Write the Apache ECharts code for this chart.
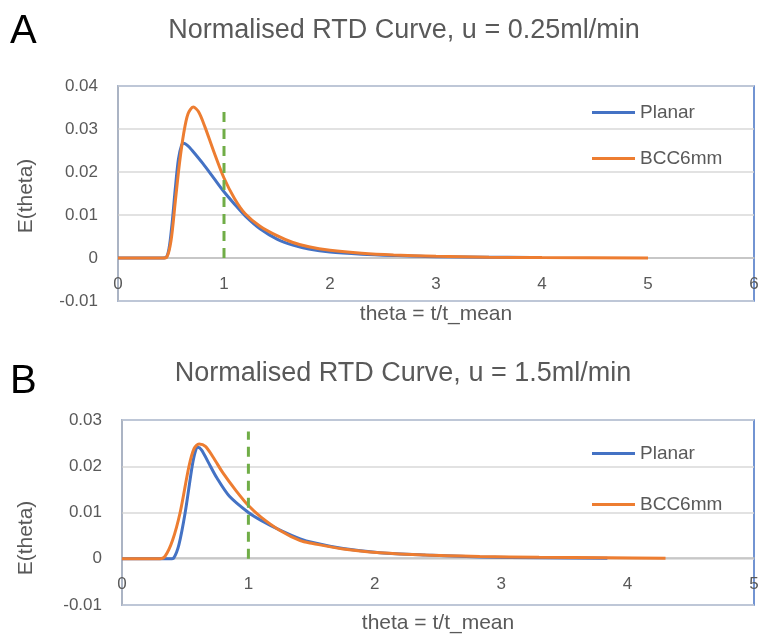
<!DOCTYPE html>
<html>
<head>
<meta charset="utf-8">
<script src="https://cdn.jsdelivr.net/npm/echarts@6/dist/echarts.min.js"></script>
<style>
  html, body { margin: 0; padding: 0; background: #fff; }
  #main { width: 760px; height: 637px; }
</style>
</head>
<body>
<div id="main"></div>
<script>
// chart A: u = 0.25 ml/min, [theta, E(theta)]
var planarA = [
    [0, 0], [0.40, 0], [0.45, 0.0001], [0.48, 0.002], [0.51, 0.008], [0.54, 0.016],
    [0.57, 0.023], [0.60, 0.0262], [0.62, 0.0267], [0.66, 0.0261], [0.70, 0.0250],
    [0.80, 0.0220], [0.90, 0.0187], [1.00, 0.0154], [1.10, 0.0125], [1.20, 0.0098],
    [1.34, 0.0068], [1.50, 0.0044], [1.65, 0.0030], [1.80, 0.0021], [2.00, 0.0014],
    [2.30, 0.0009], [2.60, 0.0006], [3.00, 0.0003], [3.50, 0.0002], [3.90, 0.0001]
];
var bccA = [
    [0, 0], [0.42, 0], [0.46, 0.0002], [0.50, 0.004], [0.54, 0.013], [0.58, 0.022],
    [0.62, 0.029], [0.66, 0.0335], [0.71, 0.0351], [0.76, 0.0340], [0.82, 0.0305],
    [0.90, 0.0250], [1.00, 0.0186], [1.10, 0.0138], [1.20, 0.0103], [1.34, 0.0074],
    [1.50, 0.0052], [1.65, 0.0036], [1.80, 0.0026], [2.00, 0.0018], [2.30, 0.0011],
    [2.60, 0.0007], [3.00, 0.0004], [3.50, 0.0002], [4.00, 0.0001], [5.00, 0]
];
var meanLineA = [[1, 0], [1, 0.034]];

// chart B: u = 1.5 ml/min
var planarB = [
    [0, 0], [0.38, 0], [0.41, 0.0002], [0.45, 0.003], [0.50, 0.010], [0.555, 0.020],
    [0.58, 0.0232], [0.60, 0.0241], [0.63, 0.0235], [0.68, 0.0210], [0.75, 0.0175],
    [0.85, 0.0135], [1.00, 0.0100], [1.10, 0.0083], [1.25, 0.0062], [1.41, 0.0043],
    [1.51, 0.0035], [1.75, 0.0022], [2.04, 0.0013], [2.40, 0.0008], [2.83, 0.0004],
    [3.30, 0.0002], [3.84, 0.0001]
];
var bccB = [
    [0, 0], [0.30, 0], [0.34, 0.0005], [0.40, 0.004], [0.46, 0.010], [0.53, 0.020],
    [0.57, 0.0238], [0.61, 0.0248], [0.66, 0.0243], [0.72, 0.0220], [0.80, 0.0185],
    [0.90, 0.0148], [1.00, 0.0115], [1.10, 0.0090], [1.25, 0.0061], [1.41, 0.0039],
    [1.51, 0.0033], [1.75, 0.0021], [2.04, 0.0013], [2.40, 0.0008], [2.83, 0.0005],
    [3.30, 0.0003], [3.84, 0.0002], [4.30, 0.0001]
];
var meanLineB = [[1, 0], [1, 0.0275]];

var titleA = 'Normalised RTD Curve, u = 0.25ml/min';
var titleB = 'Normalised RTD Curve, u = 1.5ml/min';

var FONT = 'Liberation Sans';
var GREY = '#595959';
var BLUE = '#4472C4';
var ORANGE = '#ED7D31';
var GREEN = '#70AD47';

var chart = echarts.init(document.getElementById('main'));

// x axis drawn at E = 0, lifted from the bottom of the plot by "lift" px
function xAxisFor(idx, max, lift, gap) {
    return {
        gridIndex: idx,
        type: 'value',
        min: 0,
        max: max,
        interval: 1,
        position: 'bottom',
        offset: -lift,
        name: 'theta = t/t_mean',
        nameLocation: 'middle',
        nameGap: gap,
        nameTextStyle: { color: GREY, fontSize: 21, fontFamily: FONT },
        axisLine: { onZero: false, lineStyle: { color: '#BFBFBF', width: 1.5 } },
        axisTick: { show: false },
        axisLabel: { color: GREY, fontSize: 17, fontFamily: FONT, margin: 18, showMaxLabel: true },
        splitLine: { show: false }
    };
}

function yAxisFor(idx, max) {
    return {
        gridIndex: idx,
        type: 'value',
        min: -0.01,
        max: max,
        interval: 0.01,
        axisLine: { show: true, onZero: false, lineStyle: { color: '#BFBFBF', width: 1.5 } },
        axisTick: { show: false },
        axisLabel: { color: GREY, fontSize: 17, fontFamily: FONT, margin: 20 },
        splitLine: { lineStyle: { color: '#D9D9D9', width: 1.5 } }
    };
}

function curve(name, data, color, idx) {
    return {
        name: name,
        type: 'line',
        xAxisIndex: idx,
        yAxisIndex: idx,
        data: data,
        showSymbol: false,
        smooth: 0.3,
        lineStyle: { color: color, width: 3 },
        itemStyle: { color: color },
        z: name === 'BCC6mm' ? 4 : 3
    };
}

function meanLine(data, idx) {
    return {
        name: 'mean',
        type: 'line',
        xAxisIndex: idx,
        yAxisIndex: idx,
        data: data,
        showSymbol: false,
        lineStyle: { color: GREEN, width: 3, type: [10, 7] },
        z: 5
    };
}

function legendAt(top, gap) {
    return {
        data: ['Planar', 'BCC6mm'],
        orient: 'vertical',
        left: 587,
        top: top,
        itemGap: gap,
        icon: 'rect',
        itemWidth: 43,
        itemHeight: 3,
        itemStyle: { borderWidth: 0 },
        textStyle: { color: GREY, fontSize: 19, fontFamily: FONT, padding: [0, 0, 0, 0] },
        selectedMode: false
    };
}

option = {
    backgroundColor: '#fff',
    animation: false,
    grid: [
        { left: 118, top: 86, width: 636, height: 215, show: true, borderColor: BLUE, borderWidth: 1.5, outerBoundsMode: 'none' },
        { left: 122, top: 420, width: 632, height: 185, show: true, borderColor: BLUE, borderWidth: 1.5, outerBoundsMode: 'none' }
    ],
    xAxis: [xAxisFor(0, 6, 43, 46), xAxisFor(1, 5, 47, 55)],
    yAxis: [yAxisFor(0, 0.04), yAxisFor(1, 0.03)],
    legend: [legendAt(98, 27), legendAt(439, 32)],
    graphic: [
        { type: 'text', left: 10, top: 12, style: { text: 'A', fontSize: 40, fontFamily: FONT, fill: '#000' } },
        { type: 'text', left: 10, top: 362, style: { text: 'B', fontSize: 40, fontFamily: FONT, fill: '#000' } },
        { type: 'text', x: 404, y: 31, style: { text: titleA, fontSize: 27, fontFamily: FONT, fill: GREY, align: 'center', verticalAlign: 'middle' } },
        { type: 'text', x: 403, y: 374, style: { text: titleB, fontSize: 27, fontFamily: FONT, fill: GREY, align: 'center', verticalAlign: 'middle' } },
        { type: 'text', x: 26, y: 196, rotation: Math.PI / 2, style: { text: 'E(theta)', fontSize: 21, fontFamily: FONT, fill: GREY, align: 'center', verticalAlign: 'middle' } },
        { type: 'text', x: 26, y: 538, rotation: Math.PI / 2, style: { text: 'E(theta)', fontSize: 21, fontFamily: FONT, fill: GREY, align: 'center', verticalAlign: 'middle' } }
    ],
    series: [
        curve('Planar', planarA, BLUE, 0),
        curve('BCC6mm', bccA, ORANGE, 0),
        meanLine(meanLineA, 0),
        curve('Planar', planarB, BLUE, 1),
        curve('BCC6mm', bccB, ORANGE, 1),
        meanLine(meanLineB, 1)
    ]
};

chart.setOption(option);
</script>
</body>
</html>
